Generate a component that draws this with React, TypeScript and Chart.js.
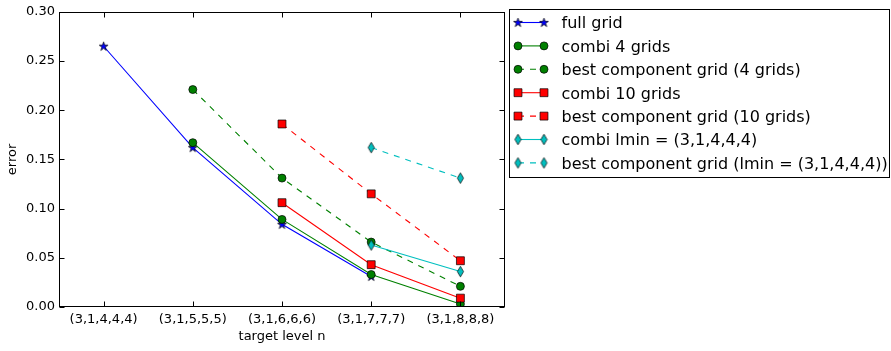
import React, { useEffect, useRef } from 'react';
import { Chart, registerables } from 'chart.js';

Chart.register(...registerables);

const categories = ['(3,1,4,4,4)', '(3,1,5,5,5)', '(3,1,6,6,6)', '(3,1,7,7,7)', '(3,1,8,8,8)'];
const fullGrid = [0.265, 0.162, 0.084, 0.031, null];
const combi4 = [null, 0.167, 0.089, 0.033, 0.003];
const best4 = [null, 0.221, 0.131, 0.066, 0.021];
const combi10 = [null, null, 0.106, 0.043, 0.009];
const best10 = [null, null, 0.186, 0.115, 0.047];
const combiLmin = [null, null, null, 0.063, 0.036];
const bestLmin = [null, null, null, 0.162, 0.131];
const seriesLabels = [
  'full grid',
  'combi 4 grids',
  'best component grid (4 grids)',
  'combi 10 grids',
  'best component grid (10 grids)',
  'combi lmin = (3,1,4,4,4)',
  'best component grid (lmin = (3,1,4,4,4))',
];
const yMin = 0;
const yMax = 0.3;
const yStep = 0.05;
const xTitle = 'target level n';
const yTitle = 'error';

const BLUE = '#0000ff';
const GREEN = '#008000';
const RED = '#ff0000';
const CYAN = '#00bfbf';
const FONT = "'DejaVu Sans', sans-serif";

function makeStar(color: string): HTMLCanvasElement {
  const c = document.createElement('canvas');
  c.width = 13; c.height = 13;
  const g = c.getContext('2d')!;
  const cx = 6.5, cy = 6.8, R = 4.7, r = R * 0.382;
  g.beginPath();
  for (let i = 0; i < 10; i++) {
    const rad = i % 2 === 0 ? R : r;
    const a = -Math.PI / 2 + (i * Math.PI) / 5;
    const x = cx + rad * Math.cos(a);
    const y = cy + rad * Math.sin(a);
    if (i === 0) g.moveTo(x, y); else g.lineTo(x, y);
  }
  g.closePath();
  g.fillStyle = color; g.fill();
  g.strokeStyle = '#000'; g.lineWidth = 0.7; g.stroke();
  return c;
}

function makeDiamond(color: string): HTMLCanvasElement {
  const c = document.createElement('canvas');
  c.width = 9; c.height = 13;
  const g = c.getContext('2d')!;
  const cx = 4.5, cy = 6.5, hw = 3.1, hh = 5.3;
  g.beginPath();
  g.moveTo(cx, cy - hh);
  g.lineTo(cx + hw, cy);
  g.lineTo(cx, cy + hh);
  g.lineTo(cx - hw, cy);
  g.closePath();
  g.fillStyle = color; g.fill();
  g.strokeStyle = '#000'; g.lineWidth = 0.7; g.stroke();
  return c;
}

const framePlugin = {
  id: 'mplFrame',
  afterDatasetsDraw(chart: any) {
    const { ctx, chartArea: a, scales } = chart;
    ctx.save();
    ctx.strokeStyle = '#000';
    ctx.lineWidth = 1;
    const L = Math.round(a.left) + 0.5, R = Math.round(a.right) - 0.5;
    const T = Math.round(a.top) + 0.5, B = Math.round(a.bottom) - 0.5;
    ctx.strokeRect(L, T, R - L, B - T);
    const tl = 5;
    ctx.beginPath();
    scales.x.ticks.forEach((_: any, i: number) => {
      const px = Math.round(scales.x.getPixelForTick(i)) + 0.5;
      ctx.moveTo(px, B); ctx.lineTo(px, B - tl);
      ctx.moveTo(px, T); ctx.lineTo(px, T + tl);
    });
    scales.y.ticks.forEach((_: any, i: number) => {
      const py = Math.round(scales.y.getPixelForTick(i)) + 0.5;
      ctx.moveTo(L, py); ctx.lineTo(L + tl, py);
      ctx.moveTo(R, py); ctx.lineTo(R - tl, py);
    });
    ctx.stroke();

    // axis titles
    ctx.fillStyle = '#000';
    ctx.font = `13px ${FONT}`;
    ctx.textAlign = 'center';
    ctx.textBaseline = 'middle';
    ctx.fillText(xTitle, (a.left + a.right) / 2, 337);
    ctx.save();
    ctx.translate(13, (a.top + a.bottom) / 2);
    ctx.rotate(-Math.PI / 2);
    ctx.fillText(yTitle, 0, 0);
    ctx.restore();

    // legend
    const bx = 509.5, by = 9.5, bw = 380, bh = 168;
    ctx.fillStyle = '#fff';
    ctx.fillRect(bx, by, bw, bh);
    ctx.strokeStyle = '#000';
    ctx.lineWidth = 1;
    ctx.strokeRect(bx, by, bw, bh);
    chart.data.datasets.forEach((ds: any, i: number) => {
      const y = 22.5 + i * 23.4;
      const x1 = 518, x2 = 544;
      ctx.save();
      ctx.strokeStyle = ds.borderColor;
      ctx.lineWidth = ds.borderWidth;
      ctx.setLineDash(ds.borderDash || []);
      ctx.beginPath();
      ctx.moveTo(x1, y); ctx.lineTo(x2, y);
      ctx.stroke();
      ctx.setLineDash([]);
      [x1, x2].forEach((x) => {
        const ps = ds.pointStyle;
        if (ps instanceof HTMLCanvasElement) {
          ctx.drawImage(ps, x - ps.width / 2, y - ps.height / 2);
        } else {
          ctx.fillStyle = ds.pointBackgroundColor;
          ctx.strokeStyle = '#000';
          ctx.lineWidth = ds.pointBorderWidth;
          ctx.beginPath();
          if (ps === 'rect') {
            const s = Math.SQRT1_2 * ds.pointRadius;
            ctx.rect(x - s, y - s, 2 * s, 2 * s);
          } else {
            ctx.arc(x, y, ds.pointRadius, 0, Math.PI * 2);
          }
          ctx.fill();
          ctx.stroke();
        }
      });
      ctx.restore();
      ctx.fillStyle = '#000';
      ctx.font = `16px ${FONT}`;
      ctx.textAlign = 'left';
      ctx.textBaseline = 'alphabetic';
      ctx.fillText(ds.label, 561.5, y + 5.8);
    });
    ctx.restore();
  },
};

export default function App() {
  const ref = useRef<HTMLCanvasElement | null>(null);

  useEffect(() => {
    if (!ref.current) return;
    const star = makeStar(BLUE);
    const diamond = makeDiamond(CYAN);
    const mk = (label: string, data: (number | null)[], color: string, dashed: boolean, style: any, radius: number, order: number) => ({
      label,
      data,
      borderColor: color,
      backgroundColor: color,
      borderWidth: 1.1,
      borderDash: dashed ? [6, 6] : [],
      pointStyle: style,
      pointRadius: radius,
      pointHoverRadius: radius,
      pointBackgroundColor: color,
      pointBorderColor: '#000',
      pointBorderWidth: 0.7,
      fill: false,
      tension: 0,
      spanGaps: false,
      clip: 0,
      order,
    });
    const datasets = [
      mk(seriesLabels[0], fullGrid, BLUE, false, star, 5, 6),
      mk(seriesLabels[1], combi4, GREEN, false, 'circle', 4, 5),
      mk(seriesLabels[2], best4, GREEN, true, 'circle', 4, 4),
      mk(seriesLabels[3], combi10, RED, false, 'rect', 5.6, 3),
      mk(seriesLabels[4], best10, RED, true, 'rect', 5.6, 2),
      mk(seriesLabels[5], combiLmin, CYAN, false, diamond, 5, 1),
      mk(seriesLabels[6], bestLmin, CYAN, true, diamond, 5, 0),
    ];
    const chart = new Chart(ref.current, {
      type: 'line',
      data: { labels: categories, datasets: datasets as any },
      options: {
        animation: false,
        responsive: false,
        maintainAspectRatio: false,
        layout: { padding: { left: 0, top: 9, right: 386, bottom: 0 } },
        plugins: {
          legend: { display: false },
          tooltip: { enabled: false },
        },
        scales: {
          x: {
            type: 'category',
            offset: true,
            grid: { display: false, drawTicks: false },
            border: { display: false },
            ticks: { color: '#000', font: { family: FONT, size: 13 }, padding: 5, maxRotation: 0, autoSkip: false },
            afterFit: (s: any) => { s.height = 44; },
          },
          y: {
            type: 'linear',
            min: yMin,
            max: yMax,
            grid: { display: false, drawTicks: false },
            border: { display: false },
            ticks: {
              stepSize: yStep,
              color: '#000',
              font: { family: FONT, size: 13 },
              padding: 4,
              callback: (v: any) => Number(v).toFixed(2),
            },
            afterFit: (s: any) => { s.width = 59; },
          },
        },
      },
      plugins: [framePlugin],
    });
    return () => chart.destroy();
  }, []);

  return (
    <div style={{ position: 'fixed', left: 0, top: 0, width: 891, height: 351, background: '#fff' }}>
      <canvas ref={ref} width={891} height={351} style={{ display: 'block', width: 891, height: 351 }} />
    </div>
  );
}
